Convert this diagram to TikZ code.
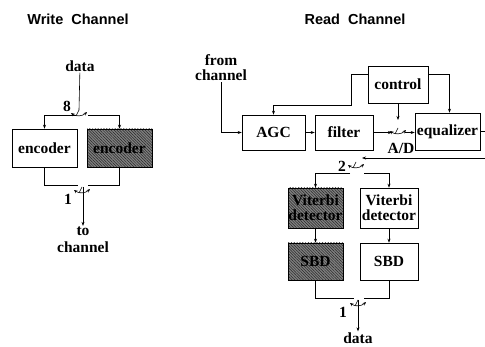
\documentclass[tikz,border=0pt]{standalone}
\usepackage{fontspec}
\setmainfont{Liberation Serif}
\newfontfamily\headfont{Liberation Sans}
\usetikzlibrary{arrows.meta,patterns.meta}

\tikzset{
  wire/.style={line width=.6pt},
  blk/.style={draw,line width=.6pt,inner sep=0pt,align=center,font=\bfseries\fontsize{15.5}{15}\selectfont},
  hatched/.style={blk,preaction={fill=black!50},pattern={Lines[angle=-45,distance=2pt,line width=.5pt]},pattern color=black!85},
  lbl/.style={font=\bfseries\fontsize{15.5}{17}\selectfont,align=center,inner sep=1pt},
  head/.style={font=\headfont\bfseries\fontsize{14.5}{14}\selectfont},
  swtch/.pic={\draw[wire] (0,0) -- (-3,6);
    \draw[wire,{Stealth[length=3.5pt,width=3pt]}-{Stealth[length=3.5pt,width=3pt]}] (-8,3) to[bend right=40] (8,2);},
  >={Stealth[length=4pt,width=3pt]}
}

\begin{document}
\begin{tikzpicture}[x=1pt,y=-1pt]
\clip (0,0) rectangle (485,347);
% titles
\node[head] (wtitle) at (78,19) {Write\ \ Channel};
\node[head] (rtitle) at (355,19) {Read\ \ Channel};
% write channel
\node[lbl] (wdata) at (80,66) {data};
\node[blk,minimum width=65pt,minimum height=38pt] (enc1) at (44.5,148) {encoder};
\node[hatched,minimum width=65pt,minimum height=38pt] (enc2) at (119.5,148) {encoder};
\coordinate (p8) at (79,110);
\draw[wire] (wdata) -- (p8);
\pic at (p8) {swtch};
\node[lbl] (n8) at (67,106) {8};
\coordinate (a8l) at (76,115);
\coordinate (a8r) at (88,115);
\draw[wire,->] (a8l) -| (enc1.north);
\draw[wire,->] (a8r) -| (enc2.north);
\coordinate (b1l) at (78,185);
\coordinate (b1r) at (88,185);
\draw[wire] (enc1.south) |- (b1l);
\draw[wire] (enc2.south) |- (b1r);
\coordinate (p1w) at (82,187);
\pic at (p1w) {swtch};
\node[lbl] (n1w) at (68,199) {1};
\node[lbl] (wto) at (83,240) {to\\channel};
\draw[wire,->] (wto.north |- p1w) -- (wto.north);
% read channel
\node[lbl,font=\bfseries\fontsize{15.5}{15}\selectfont] (fromch) at (221,68) {from\\channel};
\node[blk,minimum width=63pt,minimum height=35pt] (agc) at (273.5,132.5) {AGC};
\node[blk,minimum width=58pt,minimum height=35pt] (filt) at (344,132.5) {filter};
\node[blk,minimum width=65pt,minimum height=37pt] (eq) at (447.5,131.5) {equalizer};
\node[blk,minimum width=60pt,minimum height=37pt] (ctrl) at (398,84.5) {control};
\draw[wire,->] (fromch.south) |- (agc.west);
\draw[wire,->] (agc) -- (filt);
\coordinate (adin) at (392,132.5);
\coordinate (pad) at (398,128);
\coordinate (adout) at (405,132.5);
\draw[wire,->] (filt.east) -- (adin);
\pic at (pad) {swtch};
\draw[wire,->] (adout) -- (adout -| eq.west);
\node[lbl] (adlbl) at (401,148) {A/D};
\draw[wire,->] (ctrl.south) -- (pad |- 0,120);
\draw[wire,->] ([yshift=10pt]ctrl.west) -- ++(-16,0) |- (agc.north |- 0,105) -- (agc.north);
\draw[wire,->] ([yshift=10pt]ctrl.east) -| ([xshift=2pt]eq.north);
% detectors
\coordinate (p2) at (356,162);
\coordinate (p2in) at (362,158);
\draw[wire,->] (eq.east) -- ++(12,0) |- (p2in);
\pic at (p2) {swtch};
\node[lbl] (n2) at (342,166) {2};
\node[hatched,minimum width=55pt,minimum height=40pt] (vit1) at (315.5,208) {Viterbi\\detector};
\node[blk,minimum width=58pt,minimum height=40pt] (vit2) at (389,208) {Viterbi\\detector};
\node[hatched,minimum width=55pt,minimum height=37pt] (sbd1) at (315.5,261.5) {SBD};
\node[blk,minimum width=58pt,minimum height=37pt] (sbd2) at (389,261.5) {SBD};
\coordinate (a2l) at (350,173);
\coordinate (a2r) at (364,173);
\draw[wire,->] (a2l) -| (vit1.north);
\draw[wire,->] (a2r) -| (vit2.north);
\draw[wire,->] (vit1) -- (sbd1);
\draw[wire,->] (vit2) -- (sbd2);
\coordinate (b2l) at (354,298);
\coordinate (b2r) at (364,298);
\draw[wire] (sbd1.south) |- (b2l);
\draw[wire] (sbd2.south) |- (b2r);
\coordinate (p1r) at (358,300);
\pic at (p1r) {swtch};
\node[lbl] (n1r) at (343,312) {1};
\node[lbl] (rdata) at (358,338) {data};
\draw[wire,->] (rdata.north |- p1r) -- (rdata.north);
\end{tikzpicture}
\end{document}
